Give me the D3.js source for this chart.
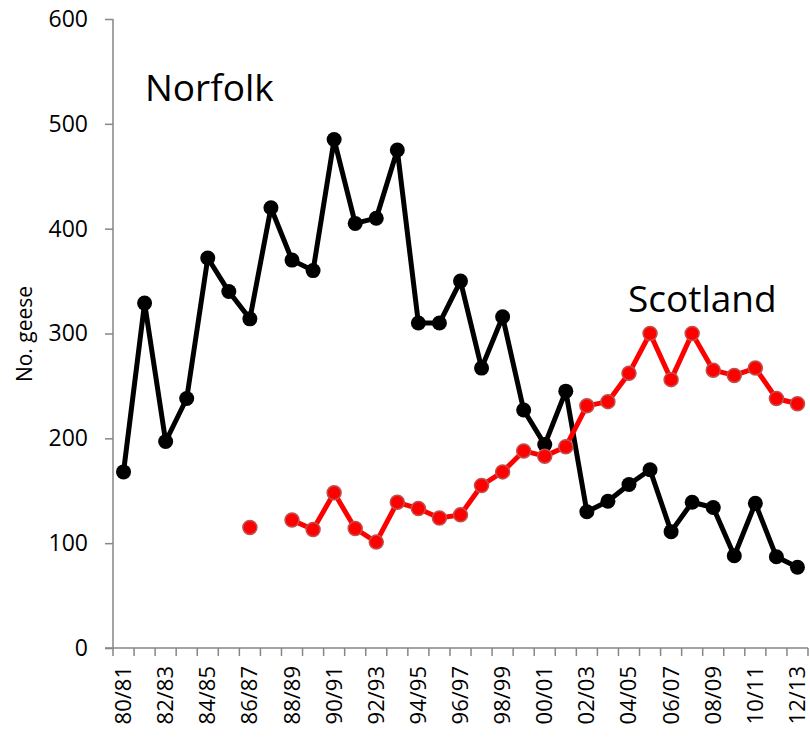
<!DOCTYPE html>
<html>
<head>
<meta charset="utf-8">
<script src="https://cdn.jsdelivr.net/npm/d3@7"></script>
<style>
  body { margin: 0; background: #fff; }
  svg { display: block; }
</style>
</head>
<body>
<svg width="810" height="739"></svg>
<script>
var seasons = ['80/81','81/82','82/83','83/84','84/85','85/86','86/87','87/88','88/89','89/90',
    '90/91','91/92','92/93','93/94','94/95','95/96','96/97','97/98','98/99','99/00',
    '00/01','01/02','02/03','03/04','04/05','05/06','06/07','07/08','08/09','09/10',
    '10/11','11/12','12/13']

var norfolk = [168, 329, 197, 238, 372, 340, 314, 420, 370, 360,
    485, 405, 410, 475, 310, 310, 350, 267, 316, 227,
    194, 245, 130, 140, 156, 170, 111, 139, 134, 88,
    138, 87, 77]

var scotland = [null, null, null, null, null, null, 115, null, 122, 113,
    148, 114, 101, 139, 133, 124, 127, 155, 168, 188,
    183, 192, 231, 235, 262, 300, 256, 300, 265, 260,
    267, 238, 233]

var yTicks = [0, 100, 200, 300, 400, 500, 600]

var svg = d3.select('svg')
var plotLeft = 113, plotRight = 808, plotTop = 19, plotBottom = 648

var x = d3.scaleBand()
    .domain(seasons)
    .range([plotLeft, plotRight])

var y = d3.scaleLinear()
    .domain([0, 600])
    .range([plotBottom, plotTop])

function cx (i) {
    return x(seasons[i]) + x.bandwidth() / 2
}

// y axis
var yAxis = svg.append('g')
    .attr('transform', 'translate(' + plotLeft + ',0)')
    .call(d3.axisLeft(y).tickValues(yTicks).tickSize(8).tickPadding(17))
yAxis.selectAll('path, line').attr('stroke', '#868686').attr('stroke-width', 1.5)
yAxis.select('.domain').attr('d', 'M0,' + plotTop + 'V' + plotBottom)
yAxis.selectAll('text')
    .style('font-family', 'Open Sans')
    .style('font-size', '23px')
    .attr('fill', '#000')

// x axis, ticks between categories
var xAxis = svg.append('g')
    .attr('transform', 'translate(0,' + plotBottom + ')')
xAxis.append('line')
    .attr('x1', plotLeft - 8).attr('x2', plotRight)
    .attr('stroke', '#868686').attr('stroke-width', 1.5)
xAxis.selectAll('.tk')
    .data(seasons.concat(['end']))
    .enter()
    .append('line')
    .attr('x1', function(d, i){ return plotLeft + i * x.bandwidth() })
    .attr('x2', function(d, i){ return plotLeft + i * x.bandwidth() })
    .attr('y1', 0).attr('y2', 8)
    .attr('stroke', '#868686').attr('stroke-width', 1.5)
xAxis.selectAll('.lbl')
    .data(seasons)
    .enter()
    .filter(function(d, i){ return i % 2 === 0 })
    .append('text')
    .attr('transform', function(d){
        return 'translate(' + (x(d) + x.bandwidth() / 2 + 7.5) + ',18) rotate(-90)'
    })
    .attr('text-anchor', 'end')
    .style('font-family', 'Open Sans')
    .style('font-size', '22px')
    .text(function(d){ return d })

// y axis title
svg.append('text')
    .attr('transform', 'translate(32,334) rotate(-90)')
    .attr('text-anchor', 'middle')
    .style('font-family', 'Open Sans')
    .style('font-size', '21px')
    .text('No. geese')

var line = d3.line()
    .defined(function(d){ return d != null })
    .x(function(d, i){ return cx(i) })
    .y(function(d){ return y(d) })

// Norfolk
svg.append('path')
    .datum(norfolk)
    .attr('d', line)
    .attr('fill', 'none')
    .attr('stroke', '#000')
    .attr('stroke-width', 5)
    .attr('stroke-linejoin', 'round')
svg.selectAll('.nf')
    .data(norfolk)
    .enter()
    .append('circle')
    .attr('cx', function(d, i){ return cx(i) })
    .attr('cy', function(d){ return y(d) })
    .attr('r', 7.5)
    .attr('fill', '#000')

// Scotland
svg.append('path')
    .datum(scotland)
    .attr('d', line)
    .attr('fill', 'none')
    .attr('stroke', '#ff0000')
    .attr('stroke-width', 5)
    .attr('stroke-linejoin', 'round')
svg.selectAll('.sc')
    .data(scotland.map(function(d, i){ return {v: d, i: i} }).filter(function(d){ return d.v != null }))
    .enter()
    .append('circle')
    .attr('cx', function(d){ return cx(d.i) })
    .attr('cy', function(d){ return y(d.v) })
    .attr('r', 7)
    .attr('fill', '#ff0000')
    .attr('stroke', '#c0504d')
    .attr('stroke-width', 1.5)

// series labels
svg.append('text')
    .attr('x', 145).attr('y', 101)
    .style('font-family', 'Open Sans')
    .style('font-size', '37px')
    .text('Norfolk')
svg.append('text')
    .attr('x', 628).attr('y', 312)
    .style('font-family', 'Open Sans')
    .style('font-size', '37px')
    .text('Scotland')
</script>
</body>
</html>
